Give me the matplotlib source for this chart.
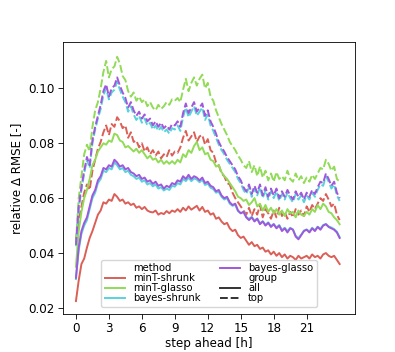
import numpy as np
import matplotlib
matplotlib.use("Agg")
import matplotlib.pyplot as plt
from matplotlib.lines import Line2D

# relative delta RMSE in thousandths, one value per 15 min step (0 .. 24 h)
minT_shrunk_all = [
    22.5, 30, 36, 38,   42, 45.5, 48, 51,   54, 55.5, 58.5, 58,   59.5, 59, 61.5, 60.5,
    59, 59.5, 58, 58.5,   57.5, 58, 56.5, 57,   56, 56.8, 55.5, 55,   54.8, 55.5, 54, 54.6,
    54.2, 55.3, 54.5, 55.5,   55, 56, 55, 56.5,   55.5, 57, 55.8, 56.5,   57.2, 55.5, 56.8, 55,
    55.5, 54, 54.5, 52.5,   53, 51.5, 50.5, 51,   49, 48, 48.5, 46.5,   45.5, 46, 44.5, 43,
    44, 42.5, 43, 41.5,   42, 40.5, 41, 39.5,   40.5, 39, 40, 38.5,   39.5, 38, 39, 38.5,
    37.5, 39, 38, 38.5,   39, 38, 39.5, 38.5,   39, 38, 39.5, 40,   39, 38.5, 39, 37.5,
    36]
minT_shrunk_top = [
    45, 52, 57, 62,   65, 63, 70, 74,   78, 80.5, 84, 86.5,   83, 87, 86, 89.5,
    88, 85.5, 86.5, 82,   84, 80.5, 81, 78.5,   80, 77, 78.5, 76,   77.5, 75.5, 77, 74.5,
    76, 75, 77.5, 75.5,   77, 76.5, 78.5, 82,   84.5, 81, 82.5, 84,   80.5, 82.5, 83, 79.5,
    81.5, 77.5, 76.5, 73,   72, 69, 68, 65.5,   65, 62, 60, 58.5,   57, 55.5, 54, 56.5,
    53.5, 56, 54, 57.5,   53, 56, 54.5, 52.5,   55.5, 53, 56.5, 53.5,   55, 52.5, 55, 53,
    56, 54, 55.5, 53.5,   57, 55, 57.5, 56,   58, 60, 59, 61.5,   59.5, 57, 58, 54,
    52]
minT_glasso_all = [
    35, 48, 55, 60,   63, 67, 72, 74,   77, 78.5, 80, 79.5,   81, 80.5, 83.5, 83,
    81, 80.5, 78.5, 79,   78, 77, 78, 76.5,   77.5, 76, 74.5, 75.5,   74, 74.5, 73, 74,
    72.5, 73.5, 72.5, 73.5,   72.5, 74, 73, 76,   75, 77.5, 76.5, 79,   80.5, 77.5, 78.5, 76,
    76.5, 74, 73.5, 71.5,   72, 69.5, 68, 67,   65.5, 64, 62.5, 60.5,   60, 59, 59.5, 57.5,
    58.5, 60, 57, 58,   55.5, 57.5, 55, 56.5,   54.5, 56, 54, 55.5,   53.5, 56, 54.5, 55,
    53, 55.5, 54, 53.5,   55, 54, 56, 55,   57.5, 56, 58, 57,   55, 54.5, 53, 52,
    50.5]
minT_glasso_top = [
    44, 60, 68, 76,   79.5, 77, 86, 92,   95, 100, 106, 110,   104, 107, 108, 111.5,
    109, 104.5, 103, 99,   97, 98.5, 95.5, 97,   95, 96, 93.5, 95,   93, 92, 94, 92.5,
    93.5, 95, 94, 96,   95.5, 96.5, 95, 99.5,   103.5, 99, 102, 104,   101, 103.5, 105, 100,
    102, 97, 95.5, 92,   89.5, 87, 85, 83,   80.5, 79, 77.5, 75.5,   74, 72, 71, 73.5,
    69.5, 72, 68, 71.5,   67.5, 70, 66.5, 69,   66, 69.5, 67, 68,   66.5, 70, 67, 66,
    69, 66.5, 68, 65.5,   67.5, 66, 68.5, 67,   69, 71, 70.5, 74,   72.5, 70, 71.5, 67,
    66]
bayes_shrunk_all = [
    30.5, 41, 47, 50,   52, 56, 60, 62,   65.5, 67, 70, 69.5,   71, 70.5, 73, 72,
    70.5, 71, 69.5, 70,   68.5, 68, 67, 67.5,   66, 66.5, 65, 65.5,   64.3, 65, 63.5, 64,
    62.8, 63.5, 63, 64.5,   64.2, 65.5, 65, 67,   66.2, 67.5, 66.2, 67.2,   66.8, 65.8, 66.7, 64.8,
    65.3, 63.8, 63.3, 62,   62.3, 60.5, 59.5, 60,   58, 57.2, 57.6, 55.3,   54.5, 55, 53.2, 52.4,
    53.2, 51.8, 52.6, 50.8,   51.6, 50.3, 51.2, 49.8,   50.6, 49.3, 50.2, 48.4,   49.2, 48, 49.2, 48.6,
    46.3, 45.4, 46.7, 48.2,   48.6, 47.8, 49.2, 48.3,   49.6, 48.8, 50.2, 50.6,   49.7, 49.3, 48.7, 47.8,
    45.8]
bayes_shrunk_top = [
    42.5, 56, 63, 69,   74, 71, 80, 85,   89, 92.5, 97.5, 100,   96, 98.5, 99.5, 102.5,
    99.5, 97, 95, 91.5,   93.5, 90.5, 88.5, 90,   87.5, 89, 86.5, 87.5,   85, 86.5, 84.5, 86,
    84, 85, 83.5, 85.5,   85, 86.5, 84.5, 89.5,   93, 89.5, 91.5, 93.5,   90, 91.5, 93, 88.5,
    90.5, 86.5, 84.5, 82,   79.5, 77.5, 76, 74,   72.5, 71, 69.5, 67,   65.5, 63, 61.5, 64,
    60.5, 63.5, 61, 64,   60, 63, 59.5, 62.5,   60, 62.5, 59, 61.5,   59.5, 62, 60, 58.5,
    61.5, 59.5, 61, 58.5,   61, 59.5, 62, 60.5,   63, 65, 64.5, 68,   66, 63.5, 65, 61,
    59]
bayes_glasso_all = [
    31, 42, 48, 51,   53, 57, 61, 63,   66.5, 68, 71, 70.5,   72, 71.5, 74, 73,
    71.5, 72, 70.5, 71,   69.5, 69, 68, 68.5,   67, 67.5, 66, 66.5,   65.2, 66, 64.5, 65,
    63.5, 64.5, 64, 65.5,   65, 66.5, 66, 68,   67, 68.5, 67, 68,   67.5, 66.5, 67.5, 65.5,
    66, 64.5, 64, 62.5,   63, 61, 60, 60.5,   58.5, 57.5, 58, 55.5,   54.5, 55, 53, 52,
    53, 51.5, 52.5, 50.5,   51.5, 50, 51, 49.5,   50.5, 49, 50, 48,   49, 47.5, 49, 48.5,
    46, 45, 46.5, 48,   48.5, 47.5, 49, 48,   49.5, 48.5, 50, 50.5,   49.5, 49, 48.5, 47.5,
    45.5]
bayes_glasso_top = [
    43, 57, 64, 70,   75, 72, 81, 86,   90, 94, 99, 101.5,   97, 100, 101, 104,
    101, 98.5, 96.5, 93,   95, 92, 90, 91.5,   89, 90.5, 88, 89,   86.5, 88, 86, 87.5,
    85.5, 86.5, 85, 87,   86.5, 88, 86, 91,   94.5, 91, 93, 95,   91.5, 93, 94.5, 90,
    92, 88, 86, 83.5,   80.5, 78.5, 77, 75,   73.5, 72, 70.5, 68,   66.5, 64, 62.5, 65,
    61.5, 64.5, 62, 65,   61, 64, 60.5, 63.5,   61, 63.5, 60, 62.5,   60.5, 63, 61, 59.5,
    62.5, 60.5, 62, 59.5,   62, 60.5, 63, 61.5,   64, 66, 65.5, 69,   67, 64.5, 66, 62,
    60]

methods = ["minT-shrunk", "minT-glasso", "bayes-shrunk", "bayes-glasso"]
groups = ["all", "top"]
series = {
    ("minT-shrunk", "all"): minT_shrunk_all,
    ("minT-shrunk", "top"): minT_shrunk_top,
    ("minT-glasso", "all"): minT_glasso_all,
    ("minT-glasso", "top"): minT_glasso_top,
    ("bayes-shrunk", "all"): bayes_shrunk_all,
    ("bayes-shrunk", "top"): bayes_shrunk_top,
    ("bayes-glasso", "all"): bayes_glasso_all,
    ("bayes-glasso", "top"): bayes_glasso_top,
}
steps = np.arange(97) * 0.25

colors = {"minT-shrunk": "#db5f57", "minT-glasso": "#91db57",
          "bayes-shrunk": "#57d3db", "bayes-glasso": "#a157db"}
styles = {"all": "-", "top": (0, (4, 1.5))}

fs = 8.6
plt.rcParams["font.size"] = fs
fig = plt.figure(figsize=(3.95, 3.52), dpi=100)
ax = fig.add_axes([0.160, 0.108, 0.7385, 0.7727])

for m in methods:
    for g in groups:
        vals = np.array(series[(m, g)]) / 1000
        ax.plot(steps, vals, color=colors[m], linestyle=styles[g], linewidth=1.4)

ax.set_xlim(-1.16, 25.39)
ax.set_ylim(0.0178, 0.1169)
ax.set_xticks(range(0, 22, 3))
ax.set_yticks([0.02, 0.04, 0.06, 0.08, 0.10])
ax.set_xlabel("step ahead [h]", fontsize=fs, labelpad=1.5)
ax.set_ylabel("relative Δ RMSE [-]", fontsize=fs)
ax.tick_params(labelsize=fs, length=3.5, width=0.6, pad=2.5)
for s in ax.spines.values():
    s.set_linewidth(0.6)

handles = [Line2D([], [], color="none")]
labels = ["method"]
for m in methods:
    handles.append(Line2D([], [], color=colors[m], linewidth=1.4))
    labels.append(m)
handles.append(Line2D([], [], color="none"))
labels.append("group")
for g in groups:
    handles.append(Line2D([], [], color=".2", linestyle=styles[g], linewidth=1.4))
    labels.append(g)
ax.legend(handles, labels, ncol=2, loc="lower center", fontsize=7.2,
          labelspacing=0.0, borderpad=0.35, handlelength=2.0, columnspacing=2.0,
          borderaxespad=0.7)

fig.savefig("out.png", dpi=100)
